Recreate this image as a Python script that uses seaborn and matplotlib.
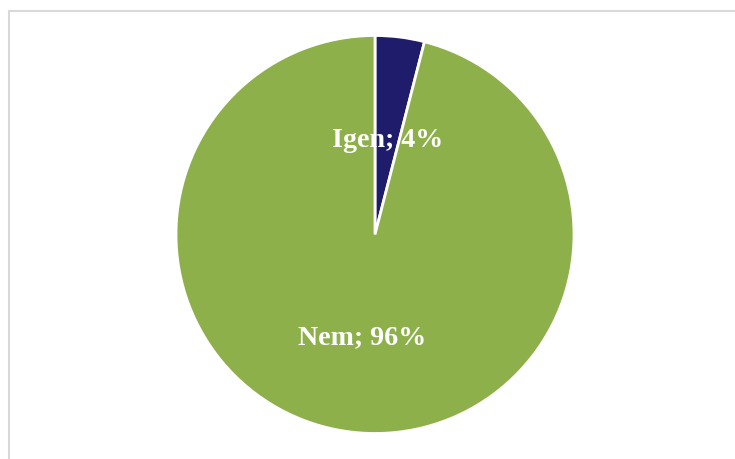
import matplotlib
matplotlib.use("Agg")
import matplotlib.pyplot as plt
import matplotlib.transforms as mtransforms
import seaborn as sns
from matplotlib.patches import Rectangle

# Survey answer shares
labels = ["Igen", "Nem"]
values = [4, 96]
colors = ["#1F1C6B", "#8DB04A"]

sns.set_theme(style="white")
plt.rcParams["font.family"] = ["Liberation Serif", "DejaVu Serif"]

W, H = 735, 459
fig = plt.figure(figsize=(W / 100, H / 100), dpi=100)
fig.patch.set_facecolor("white")

# chart frame, cut off at the right and bottom edges
fig.add_artist(Rectangle((8.5 / W, -0.1), 1.2, (H - 11) / H + 0.1,
                         transform=fig.transFigure, fill=False,
                         edgecolor="#D9D9D9", linewidth=1.5))

cx, cy, r = 375, 234.5, 199
ax = fig.add_axes([(cx - r) / W, (H - cy - r) / H, 2 * r / W, 2 * r / H])

texts = [f"{l}; {v}%" for l, v in zip(labels, values)]
wedges, lbls = ax.pie(values, labels=texts, colors=colors, startangle=90,
                      counterclock=False, labeldistance=0.5,
                      wedgeprops=dict(edgecolor="white", linewidth=2),
                      textprops=dict(color="white", fontsize=20.2,
                                     fontweight="bold", ha="center",
                                     va="center"))
ax.set_xlim(-1, 1)
ax.set_ylim(-1, 1)
ax.set_aspect("auto")
ax.axis("off")

# nudge the labels slightly downward
shift = mtransforms.offset_copy(ax.transData, fig=fig, y=-4.5, units="dots")
for t in lbls:
    t.set_transform(shift)

fig.savefig("out.png", dpi=100, facecolor="white")
